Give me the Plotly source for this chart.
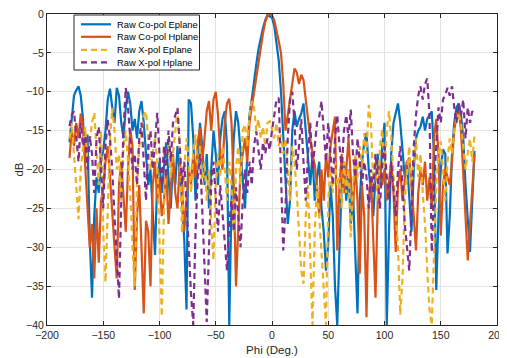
import plotly.graph_objects as go

phi = list(range(-180, 181, 2))

co_e = [
    -16.5, -13, -10.5, -9.8, -9.3, -10.5, -13.5, -19, -15.5, -29,
    -36.5, -26, -21, -23, -19, -17.5, -15, -11, -9.6, -12,
    -14, -9.5, -10.5, -14, -16, -12, -10, -11.5, -15, -13.5,
    -16, -12.5, -11.2, -14, -18, -22, -20, -26, -31, -21,
    -19, -23, -20, -16.5, -21, -25, -19, -22, -17, -20,
    -24, -29, -38, -11, -11.5, -16, -24, -19, -14, -17,
    -22, -18, -25, -20, -15, -18, -22, -16, -13.5, -12.5,
    -17, -40, -24, -16, -12.5, -14, -18, -21, -25, -18,
    -13, -11, -8.5, -6.5, -4.5, -3, -1.8, -0.8, -0.1, -0.3,
    -0.5, -1.5, -3.5, -6, -10, -16, -20, -27, -24, -15,
    -12.5, -14.5, -13.5, -12.8, -11.5, -15, -19, -22, -18, -24,
    -21, -19, -25, -28, -33, -29.5, -22, -26, -35, -40,
    -30, -22, -19, -24, -20, -27, -23, -30, -38.5, -24,
    -19, -16.5, -15.3, -20, -23, -26, -21, -18, -22, -17,
    -14, -40, -28, -18, -14, -12.5, -11.5, -14, -18, -21,
    -19, -23, -28, -20, -16, -15, -14.5, -13.2, -15, -13.5,
    -13, -12.5, -18, -35.5, -26, -20, -17.4, -18, -30.8, -26,
    -18, -14, -12, -11.5, -13, -16, -22, -27, -30.6, -24,
    -17.6,
]

co_h = [
    -18.5, -15, -17, -14, -16, -12.8, -14.5, -20, -24, -30,
    -27, -34, -25, -32, -24, -22.5, -19, -17, -21, -26,
    -30, -34, -22, -19, -23, -28, -20, -14.8, -17, -35.5,
    -26, -22, -30, -38.5, -26.6, -28, -35, -22, -19, -24,
    -21, -26, -24, -20, -27, -22, -18, -23, -25, -19,
    -21, -28, -24, -20, -22, -18, -21, -16.4, -14.7, -19,
    -16, -12.5, -11.2, -15, -11, -10, -13, -18, -20, -14,
    -11.5, -10.9, -14, -22, -35, -26, -20, -18, -16, -19,
    -14, -12, -10, -8.5, -6.5, -4.5, -2.5, -1, -0.2, 0,
    -0.2, -0.8, -2, -3.5, -5, -9, -15, -13, -11, -9,
    -7, -7.5, -9, -7.8, -8.5, -11, -14, -16, -18, -19.4,
    -22, -26, -20, -24, -18, -21, -17, -15, -13.2, -30.4,
    -22, -18, -23, -20, -16, -21, -25, -19, -24, -33.4,
    -22, -26, -39, -24, -21, -29, -36.5, -24, -19.1, -22,
    -20, -24, -21, -19, -23, -30.6, -22, -20, -24, -21,
    -19, -18.5, -22, -26, -30.4, -23, -20, -22, -19, -24,
    -21, -25, -16, -13.5, -18, -28.5, -22, -19.8, -21, -22,
    -19, -15, -13, -12.3, -15, -20, -26, -31.7, -27, -22,
    -18,
]

x_e = [
    -16, -14, -18, -22, -26.4, -20, -17, -14.5, -19, -16,
    -14, -12.7, -17, -22, -15.1, -28, -34.5, -24, -16, -12.1,
    -15, -20, -18, -24, -17, -15, -19, -23, -30, -35,
    -22, -17, -15, -13, -12.5, -16, -20, -18, -15.8, -19,
    -28, -38.9, -25, -19, -16, -21, -18, -15, -12.3, -17,
    -28.2, -20, -16, -19, -23, -18, -15.5, -20, -17, -22,
    -19, -24, -20, -27, -31.7, -22, -18, -21, -17, -20,
    -24, -19, -22, -28, -20, -17, -22, -15, -14.2, -17,
    -13, -11.2, -12, -15, -13.5, -16, -14.5, -17, -14, -13.8,
    -15, -16, -14, -17, -15.5, -18, -16, -20, -24, -17,
    -19, -23, -28, -33, -34.7, -26, -22, -30, -40, -28,
    -22, -26, -31, -36, -40, -24, -20, -23, -19, -22,
    -21, -25, -19, -23, -20, -28.7, -22, -18, -21, -17,
    -20, -15.3, -18, -11.7, -14, -22, -19, -24, -17, -14.8,
    -20, -15, -12.5, -16, -21, -25, -30, -38.7, -34, -24,
    -20, -17, -22, -19, -16, -21, -18, -23, -27, -33,
    -38, -40, -30, -22, -18, -16.4, -20, -24, -19, -16,
    -18, -15, -13.5, -12.9, -14, -17, -20, -18, -16, -19,
    -15.5,
]

x_h = [
    -14.4, -13, -12.5, -16, -19, -14, -17, -15.7, -20, -15.7,
    -18, -23, -16, -14.5, -19, -25, -17, -13.6, -16, -20,
    -26, -31, -36.6, -24, -15, -9.5, -12, -16, -20, -18,
    -22, -16, -14, -19, -24, -17, -15, -20, -16, -12.7,
    -18, -22, -17, -21, -15, -19, -14, -13, -12.1, -17,
    -22, -19, -24, -30, -36, -40, -28, -21, -18, -26,
    -34, -39.6, -30, -22, -19, -24, -28, -22, -26, -30,
    -33, -27, -24, -28, -22.3, -26, -30, -24, -20, -23,
    -19, -22, -17, -15.1, -18, -20, -16.5, -18, -16, -17.5,
    -15, -13, -11, -10.8, -22, -30.4, -25, -16, -11, -10,
    -14, -20, -17, -13.5, -19, -24, -18, -14, -20, -17,
    -14, -13.2, -11.2, -15, -19, -14, -18, -22, -16, -13,
    -17, -20, -15, -13, -16, -12.3, -18, -21, -16, -19,
    -22, -19, -21, -25, -20, -23, -18, -21, -25, -19,
    -17, -21, -24, -19, -22, -26, -20, -17, -22, -27,
    -30, -33, -25, -17, -13, -10.5, -9.3, -11, -9, -8.3,
    -13, -30.6, -22, -16, -12, -14, -11, -10.4, -9.5, -10.5,
    -9.3, -12, -14, -11.5, -13, -11, -16, -12, -14, -12.5,
    -12.9,
]

series = [
    ("Raw Co-pol Eplane", co_e, "#0072BD", "solid"),
    ("Raw Co-pol Hplane", co_h, "#D95319", "solid"),
    ("Raw X-pol Eplane", x_e, "#EDB120", "6px,4px"),
    ("Raw X-pol Hplane", x_h, "#7E2F8E", "6px,4px"),
]

fig = go.Figure()
for name, vals, color, dash in series:
    fig.add_trace(go.Scatter(
        x=phi, y=vals, mode="lines", name=name, showlegend=False,
        line=dict(color=color, width=2.2, dash=dash),
    ))

# page body has an 8px margin: figure is placed at (8, 8) in the window
OFF = 8
W, H = 507, 358
PL, PR, PT, PB = 47, 497, 14, 325   # plot area in window pixels


def px_x(p):
    return (p - PL) / (PR - PL)


def px_y(p):
    return 1 - (p - PT) / (PB - PT)


shapes = [dict(type="rect", xref="paper", yref="paper",
               x0=px_x(74), x1=px_x(199.5), y0=px_y(70), y1=px_y(15),
               line=dict(color="#262626", width=1), fillcolor="white", layer="above")]
annotations = []
rows = [24.3, 36.8, 49.8, 62.3]
for (name, vals, color, dash), ry in zip(series, rows):
    shapes.append(dict(type="line", xref="paper", yref="paper",
                       x0=px_x(81), x1=px_x(111), y0=px_y(ry), y1=px_y(ry),
                       line=dict(color=color, width=2.2, dash=dash), layer="above"))
    annotations.append(dict(xref="paper", yref="paper", x=px_x(114.5), y=px_y(ry),
                            xanchor="left", yanchor="middle", text=name, showarrow=False,
                            font=dict(size=9.4, color="#000000")))

axis_common = dict(
    showgrid=True, gridcolor="#e3e3e3", gridwidth=1, automargin=False,
    zeroline=False, showline=True, linecolor="#262626", linewidth=1,
    mirror="allticks", ticks="inside", ticklen=4, tickcolor="#262626",
    tickfont=dict(size=10.5, color="#262626"), ticklabeloverflow="allow",
)

fig.update_layout(
    width=W, height=H,
    margin=dict(l=PL - OFF, r=W - (PR - OFF), t=PT - OFF, b=H - (PB - OFF),
                autoexpand=False),
    paper_bgcolor="white", plot_bgcolor="white",
    font=dict(family="Liberation Sans, Arial, sans-serif", color="#262626"),
    xaxis=dict(range=[-200, 200], dtick=50, tick0=0,
               title=dict(text="Phi (Deg.)", font=dict(size=11.5), standoff=6),
               **axis_common),
    yaxis=dict(range=[-40, 0], dtick=5, tick0=0,
               title=dict(text="dB", font=dict(size=11.5), standoff=0),
               **axis_common),
    shapes=shapes,
    annotations=annotations,
    showlegend=False,
)

fig.write_html("out.html")
